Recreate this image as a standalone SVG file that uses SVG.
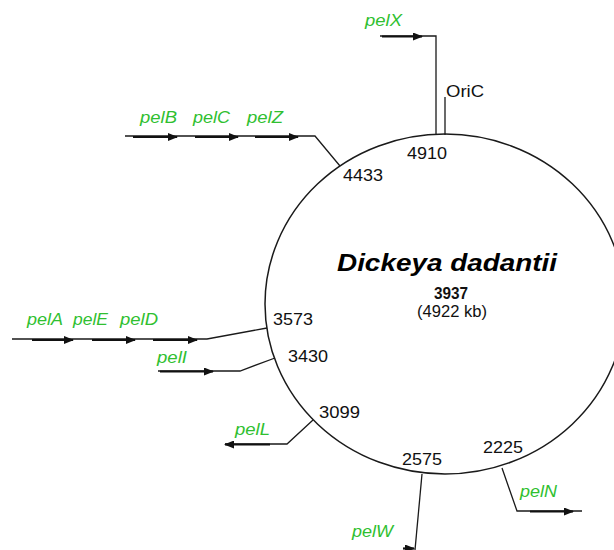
<svg xmlns="http://www.w3.org/2000/svg" width="614" height="550" viewBox="0 0 614 550">
  <style>
    .bg { fill: #ffffff; }
    .chrom { fill: none; stroke: #1a1a1a; stroke-width: 1.5; }
    .wire { fill: none; stroke: #1a1a1a; stroke-width: 1.3; }
    .gene { fill: none; stroke: #111111; stroke-width: 2.2; }
    .pos { font-family: "Liberation Sans", Arial, sans-serif; font-size: 16px; fill: #111111; }
    .gname { font-family: "Liberation Sans", Arial, sans-serif; font-size: 17px; font-style: italic; fill: #30bf30; }
    .title { font-family: "Liberation Sans", Arial, sans-serif; font-size: 23px; font-style: italic; font-weight: bold; fill: #000000; }
    .count { font-family: "Liberation Sans", Arial, sans-serif; font-size: 16px; font-weight: bold; fill: #111111; }
  </style>
  <defs>
    <marker id="head" markerUnits="userSpaceOnUse" markerWidth="10" markerHeight="8" refX="9" refY="4" orient="auto">
      <path d="M0,0 L10,4 L0,8 z" fill="#111111"/>
    </marker>
  </defs>

  <rect class="bg" x="0" y="0" width="614" height="550"/>

  <!-- chromosome -->
  <g id="chromosome">
    <ellipse class="chrom" cx="445" cy="304" rx="180" ry="170"/>
    <text class="title" x="337" y="271" textLength="220" lengthAdjust="spacingAndGlyphs">Dickeya dadantii</text>
    <text class="count" x="434" y="299" textLength="34" lengthAdjust="spacingAndGlyphs">3937</text>
    <text class="pos" x="417" y="317" textLength="70" lengthAdjust="spacingAndGlyphs">(4922 kb)</text>
  </g>

  <!-- connectors: lines from map positions out to gene clusters -->
  <g id="connectors">
    <path class="wire" d="M380,36 H436 V135"/>
    <path class="wire" d="M445,97 V135"/>
    <path class="wire" d="M125,136 H315 L340,166"/>
    <path class="wire" d="M12,339 H207 L267,328"/>
    <path class="wire" d="M158,371 H240 L275,358"/>
    <path class="wire" d="M313,420 L287,444 H225"/>
    <path class="wire" d="M422,474 L415,550"/>
    <path class="wire" d="M502,468 L517,511 H582"/>
  </g>

  <!-- OriC / pelX at 4910 -->
  <g id="oric">
    <text class="pos" x="446" y="97" textLength="38" lengthAdjust="spacingAndGlyphs">OriC</text>
    <text class="pos" x="407" y="159" textLength="40" lengthAdjust="spacingAndGlyphs">4910</text>
  </g>
  <g id="pelX">
    <path class="gene" d="M382,36.5 H422" marker-end="url(#head)"/>
    <text class="gname" x="365" y="26" textLength="37" lengthAdjust="spacingAndGlyphs">pelX</text>
  </g>

  <!-- pelB pelC pelZ at 4433 -->
  <g id="pelBCZ">
    <path class="gene" d="M133,137 H177" marker-end="url(#head)"/>
    <path class="gene" d="M195,137 H238" marker-end="url(#head)"/>
    <path class="gene" d="M255,137 H298" marker-end="url(#head)"/>
    <text class="gname" x="140" y="123" textLength="37" lengthAdjust="spacingAndGlyphs">pelB</text>
    <text class="gname" x="193" y="123" textLength="37" lengthAdjust="spacingAndGlyphs">pelC</text>
    <text class="gname" x="247" y="123" textLength="36" lengthAdjust="spacingAndGlyphs">pelZ</text>
    <text class="pos" x="343" y="181" textLength="40" lengthAdjust="spacingAndGlyphs">4433</text>
  </g>

  <!-- pelA pelE pelD at 3573 -->
  <g id="pelAED">
    <path class="gene" d="M32,340 H73" marker-end="url(#head)"/>
    <path class="gene" d="M92,340 H135" marker-end="url(#head)"/>
    <path class="gene" d="M153,340 H197" marker-end="url(#head)"/>
    <text class="gname" x="27" y="325" textLength="36" lengthAdjust="spacingAndGlyphs">pelA</text>
    <text class="gname" x="73" y="325" textLength="35" lengthAdjust="spacingAndGlyphs">pelE</text>
    <text class="gname" x="120" y="325" textLength="38" lengthAdjust="spacingAndGlyphs">pelD</text>
    <text class="pos" x="273" y="325" textLength="40" lengthAdjust="spacingAndGlyphs">3573</text>
  </g>

  <!-- pelI at 3430 -->
  <g id="pelI">
    <path class="gene" d="M160,371.5 H213" marker-end="url(#head)"/>
    <text class="gname" x="157" y="363" textLength="30" lengthAdjust="spacingAndGlyphs">pelI</text>
    <text class="pos" x="288" y="362" textLength="40" lengthAdjust="spacingAndGlyphs">3430</text>
  </g>

  <!-- pelL at 3099 -->
  <g id="pelL">
    <path class="gene" d="M270,444.5 H225" marker-end="url(#head)"/>
    <text class="gname" x="235" y="435" textLength="35" lengthAdjust="spacingAndGlyphs">pelL</text>
    <text class="pos" x="319" y="418" textLength="41" lengthAdjust="spacingAndGlyphs">3099</text>
  </g>

  <!-- pelW at 2575 -->
  <g id="pelW">
    <path class="gene" d="M403,548.5 H414" marker-end="url(#head)"/>
    <text class="gname" x="352" y="537" textLength="41" lengthAdjust="spacingAndGlyphs">pelW</text>
    <text class="pos" x="402" y="465" textLength="40" lengthAdjust="spacingAndGlyphs">2575</text>
  </g>

  <!-- pelN at 2225 -->
  <g id="pelN">
    <path class="gene" d="M530,511.5 H573" marker-end="url(#head)"/>
    <text class="gname" x="520" y="497" textLength="37" lengthAdjust="spacingAndGlyphs">pelN</text>
    <text class="pos" x="483" y="453" textLength="40" lengthAdjust="spacingAndGlyphs">2225</text>
  </g>
</svg>
